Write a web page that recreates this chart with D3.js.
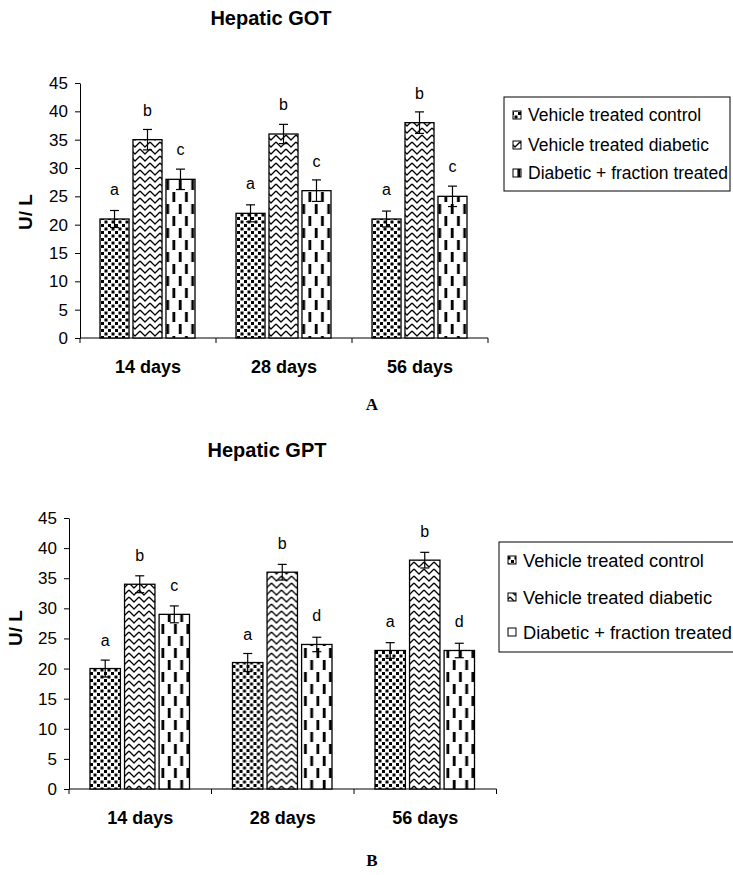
<!DOCTYPE html>
<html>
<head>
<meta charset="utf-8">
<script src="https://cdn.jsdelivr.net/npm/d3@7"></script>
<style>
  body { margin: 0; background: #fff; }
  text { font-family: "Liberation Sans", Arial, sans-serif; fill: #000; }
  .serif { font-family: "Liberation Serif", "Times New Roman", serif; }
</style>
</head>
<body>
<div id="chart"></div>
<script>
// data
var categories = ["14 days", "28 days", "56 days"];
var seriesNames = ["Vehicle treated control", "Vehicle treated diabetic", "Diabetic + fraction treated"];
var yTicks = [0, 5, 10, 15, 20, 25, 30, 35, 40, 45];

// Hepatic GOT (A)
var gotValues = [[21, 35, 28], [22, 36, 26], [21, 38, 25]];
var gotErrors = [[1.5, 1.8, 1.8], [1.5, 1.7, 1.9], [1.4, 1.9, 1.8]];
var gotLetters = [["a", "b", "c"], ["a", "b", "c"], ["a", "b", "c"]];

// Hepatic GPT (B)
var gptValues = [[20, 34, 29], [21, 36, 24], [23, 38, 23]];
var gptErrors = [[1.4, 1.4, 1.4], [1.5, 1.3, 1.2], [1.3, 1.3, 1.2]];
var gptLetters = [["a", "b", "c"], ["a", "b", "d"], ["a", "b", "d"]];

var svg = d3.select("#chart")
  .append("svg")
    .attr("width", 733)
    .attr("height", 875);

svg.append("rect").attr("width", 733).attr("height", 875).attr("fill", "#fff");

// fill patterns (Excel style)
var defs = svg.append("defs");

var pDots = defs.append("pattern")
    .attr("id", "pat0")
    .attr("patternUnits", "userSpaceOnUse")
    .attr("width", 7).attr("height", 7);
pDots.append("rect").attr("width", 7).attr("height", 7).attr("fill", "#fff");
pDots.append("rect").attr("x", 0).attr("y", 0).attr("width", 3).attr("height", 3).attr("fill", "#000");
pDots.append("rect").attr("x", 3.5).attr("y", 3.5).attr("width", 3).attr("height", 3).attr("fill", "#000");

// chevron / herringbone
var pZig = defs.append("pattern")
    .attr("id", "pat1")
    .attr("patternUnits", "userSpaceOnUse")
    .attr("width", 10).attr("height", 7);
pZig.append("rect").attr("width", 10).attr("height", 7).attr("fill", "#fff");
pZig.append("path")
    .attr("d", "M0,-5 L5,0 L10,-5 M0,2 L5,7 L10,2 M0,9 L5,14 L10,9")
    .attr("fill", "none").attr("stroke", "#000").attr("stroke-width", 1.3);

var pDash = defs.append("pattern")
    .attr("id", "pat2")
    .attr("patternUnits", "userSpaceOnUse")
    .attr("width", 12.5).attr("height", 24);
pDash.append("rect").attr("width", 12.5).attr("height", 24).attr("fill", "#fff");
pDash.append("rect").attr("x", 5).attr("y", 0).attr("width", 2.8).attr("height", 10).attr("fill", "#000");
pDash.append("rect").attr("x", 11.3).attr("y", 12).attr("width", 2.8).attr("height", 10).attr("fill", "#000");
pDash.append("rect").attr("x", -1.2).attr("y", 12).attr("width", 2.8).attr("height", 10).attr("fill", "#000");

function drawChart(cfg) {
  var g = svg.append("g");

  var x0 = d3.scaleBand().domain(categories).range([cfg.left, cfg.right]).padding(0);
  var x1 = d3.scaleBand().domain(d3.range(seriesNames.length))
      .range(cfg.group).paddingInner(0.12).paddingOuter(0);
  var y = d3.scaleLinear().domain([0, 45]).range([cfg.bottom, cfg.top]);

  // title
  g.append("text")
    .attr("x", cfg.titleX).attr("y", cfg.titleY)
    .attr("text-anchor", "middle")
    .style("font-weight", "bold").style("font-size", "20px")
    .text(cfg.title);

  // y axis
  var yAxis = g.append("g")
    .attr("transform", "translate(" + cfg.left + ",0)")
    .call(d3.axisLeft(y).tickValues(yTicks).tickSize(5).tickSizeOuter(0).tickPadding(7));
  yAxis.selectAll("text").style("font-size", "17px").attr("font-family", null);
  yAxis.selectAll("path, line").attr("stroke", "#000");

  g.append("text")
    .attr("transform", "translate(" + cfg.yLabelX + "," + cfg.yLabelY + ") rotate(-90)")
    .attr("text-anchor", "middle")
    .attr("dy", "0.35em")
    .style("font-weight", "bold").style("font-size", "19px")
    .text("U/ L");

  // x axis
  g.append("line")
    .attr("x1", cfg.left).attr("x2", cfg.right)
    .attr("y1", cfg.bottom).attr("y2", cfg.bottom)
    .attr("stroke", "#000");
  var edges = categories.map(function(c) { return x0(c); }).concat([cfg.right]);
  g.selectAll(".xtick").data(edges).enter().append("line")
    .attr("x1", function(d) { return d; }).attr("x2", function(d) { return d; })
    .attr("y1", cfg.bottom).attr("y2", cfg.bottom + 5)
    .attr("stroke", "#000");
  g.selectAll(".xlab").data(categories).enter().append("text")
    .attr("x", function(d) { return x0(d) + x0.bandwidth() / 2; })
    .attr("y", cfg.bottom + 35)
    .attr("text-anchor", "middle")
    .style("font-weight", "bold").style("font-size", "18px")
    .text(function(d) { return d; });

  // bars
  var groups = g.selectAll(".grp").data(categories).enter().append("g")
    .attr("transform", function(d) { return "translate(" + x0(d) + ",0)"; });

  groups.each(function(c, ci) {
    var grp = d3.select(this);
    var vals = cfg.values[ci].map(function(v, si) {
      return { si: si, v: v, e: cfg.errors[ci][si], l: cfg.letters[ci][si] };
    });

    grp.selectAll("rect").data(vals).enter().append("rect")
      .attr("x", function(d) { return x1(d.si); })
      .attr("y", function(d) { return y(d.v); })
      .attr("width", x1.bandwidth())
      .attr("height", function(d) { return cfg.bottom - y(d.v); })
      .attr("fill", function(d) { return "url(#pat" + d.si + ")"; })
      .attr("stroke", "#000").attr("stroke-width", 1.3);

    // error bars
    var eb = grp.selectAll(".err").data(vals).enter().append("g");
    eb.append("line")
      .attr("x1", function(d) { return x1(d.si) + x1.bandwidth() / 2; })
      .attr("x2", function(d) { return x1(d.si) + x1.bandwidth() / 2; })
      .attr("y1", function(d) { return y(d.v + d.e); })
      .attr("y2", function(d) { return y(d.v - d.e); })
      .attr("stroke", "#000").attr("stroke-width", 1.2);
    [1, -1].forEach(function(sign) {
      eb.append("line")
        .attr("x1", function(d) { return x1(d.si) + x1.bandwidth() / 2 - 4.5; })
        .attr("x2", function(d) { return x1(d.si) + x1.bandwidth() / 2 + 4.5; })
        .attr("y1", function(d) { return y(d.v + sign * d.e); })
        .attr("y2", function(d) { return y(d.v + sign * d.e); })
        .attr("stroke", "#000").attr("stroke-width", 1.2);
    });

    // significance letters
    grp.selectAll(".let").data(vals).enter().append("text")
      .attr("x", function(d) { return x1(d.si) + x1.bandwidth() / 2; })
      .attr("y", function(d) { return y(d.v) - cfg.letterGap; })
      .attr("text-anchor", "middle")
      .style("font-size", "16px")
      .text(function(d) { return d.l; });
  });

  // legend
  var lg = g.append("g");
  lg.append("rect")
    .attr("x", cfg.legend.x).attr("y", cfg.legend.y)
    .attr("width", cfg.legend.w).attr("height", cfg.legend.h)
    .attr("fill", "#fff").attr("stroke", "#000").attr("stroke-width", 1);
  seriesNames.forEach(function(s, si) {
    var cy = cfg.legend.rows[si];
    lg.append("rect")
      .attr("x", cfg.legend.x + 9).attr("y", cy - 4)
      .attr("width", 8).attr("height", 8)
      .attr("fill", "url(#pat" + si + ")")
      .attr("stroke", "#000").attr("stroke-width", 1);
    lg.append("text")
      .attr("x", cfg.legend.x + cfg.legend.textDx).attr("y", cy)
      .attr("dy", "0.36em")
      .style("font-size", cfg.legend.font)
      .text(s);
  });

  // panel letter
  g.append("text")
    .attr("class", "serif")
    .attr("x", cfg.panelX).attr("y", cfg.panelY)
    .attr("text-anchor", "middle")
    .attr("dy", "0.35em")
    .style("font-weight", "bold").style("font-size", "17px")
    .text(cfg.panel);
}

drawChart({
  title: "Hepatic GOT", titleX: 271, titleY: 25,
  values: gotValues, errors: gotErrors, letters: gotLetters,
  left: 80, right: 488, top: 83, bottom: 338, group: [20, 115],
  yLabelX: 25, yLabelY: 212, letterGap: 24,
  legend: { x: 504, y: 97, w: 226, h: 94, rows: [115, 145, 173], textDx: 24, font: "17.5px" },
  panel: "A", panelX: 372, panelY: 404
});

drawChart({
  title: "Hepatic GPT", titleX: 267, titleY: 457,
  values: gptValues, errors: gptErrors, letters: gptLetters,
  left: 69, right: 496.5, top: 518, bottom: 789, group: [21, 120.5],
  yLabelX: 15, yLabelY: 628, letterGap: 23,
  legend: { x: 499, y: 542, w: 250, h: 110, rows: [560, 597, 632], textDx: 24, font: "18.3px" },
  panel: "B", panelX: 372, panelY: 860
});
</script>
</body>
</html>
